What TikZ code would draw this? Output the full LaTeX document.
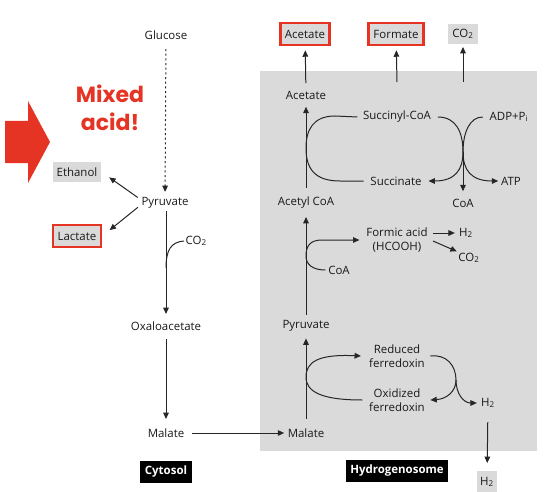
\documentclass[tikz,border=0pt]{standalone}
\usepackage{fontspec}
\setmainfont{Open Sans}
\newfontfamily\mixfont{Poppins}
\usetikzlibrary{arrows.meta}
\definecolor{mixred}{RGB}{229,52,36}
\definecolor{boxgray}{RGB}{218,218,218}
\begin{document}
\begin{tikzpicture}[x=0.75pt,y=-0.75pt,
  txt/.style={font=\fontsize{8.6}{10.5}\selectfont, inner sep=1pt, align=center, text=black!90},
  gbox/.style={txt, fill=boxgray, inner xsep=3pt, minimum height=15pt},
  rbox/.style={txt, fill=boxgray, draw=mixred, line width=2pt, inner xsep=3.5pt, minimum height=16.5pt},
  kbox/.style={font=\fontsize{8.6}{10}\selectfont\bfseries, fill=black, text=white, minimum height=16.5pt, inner sep=1pt},
  ln/.style={line width=0.75pt, black!85},
  arr/.style={ln, -{Triangle[length=4.8pt,width=4.2pt]}}
]
\useasboundingbox (0,0) rectangle (550,492);
% hydrogenosome region
\fill[boxgray] (260,71) rectangle (537,451);

% big red arrow and label
\fill[mixred] (5,121) -- (28,121) -- (28,101) -- (50,142) -- (28,183) -- (28,163) -- (5,163) -- cycle;
\node[font=\mixfont\bfseries\fontsize{16.5}{21}\selectfont, text=mixred, align=center, inner sep=0pt] (mix) at (110,108) {Mixed\\acid!};

% cytosol nodes
\node[txt] (glc) at (166,35) {Glucose};
\node[txt] (pyrL) at (165,203) {Pyruvate};
\node[gbox] (eth) at (77,172) {Ethanol};
\node[rbox] (lac) at (77,236) {Lactate};
\node[txt] (oxa) at (166,326) {Oxaloacetate};
\node[txt] (malL) at (166,433) {Malate};
\node[txt, anchor=west] (co2L) at (184,241) {CO\textsubscript{2}};
\node[kbox, minimum width=39pt] (cyt) at (166,472) {Cytosol};

% hydrogenosome nodes
\node[rbox] (acT) at (305,34) {Acetate};
\node[rbox] (foT) at (396,34) {Formate};
\node[gbox] (coT) at (463,34) {CO\textsubscript{2}};
\node[txt] (acI) at (306,95) {Acetate};
\node[txt] (sco) at (397,117) {Succinyl-CoA};
\node[txt] (suc) at (396,181) {Succinate};
\node[txt] (adp) at (509,117) {ADP+P\textsubscript{i}};
\node[txt] (atp) at (511,181) {ATP};
\node[txt] (coa1) at (463,203) {CoA};
\node[txt] (acoa) at (306,203) {Acetyl CoA};
\node[txt] (coa2) at (339,270) {CoA};
\node[txt] (form) at (397,240) {Formic acid\\(HCOOH)};
\node[txt] (h2a) at (466,233) {H\textsubscript{2}};
\node[txt] (co2a) at (469,258) {CO\textsubscript{2}};
\node[txt] (pyrR) at (306,326) {Pyruvate};
\node[txt] (red) at (397,356) {Reduced\\ferredoxin};
\node[txt] (oxi) at (397,400) {Oxidized\\ferredoxin};
\node[txt] (h2r) at (488,403) {H\textsubscript{2}};
\node[txt] (malR) at (306,433) {Malate};
\node[gbox, minimum height=16pt, inner xsep=2.5pt] (h2b) at (487,482) {H\textsubscript{2}};
\node[kbox, minimum width=76pt] (hyd) at (397,471) {Hydrogenosome};

\coordinate (fs) at (397,82);
\coordinate (cs) at (463,82);
\coordinate (x1) at (463,152);
\coordinate (fa1) at (433,233);
\coordinate (fa2) at (433,241);

% cytosol connectors
\draw[ln, dash pattern=on 1.5pt off 2pt, -{Triangle[length=4.8pt,width=4.2pt]}, shorten <=6pt, shorten >=3pt] (glc) -- (pyrL);
\draw[arr, shorten <=2pt, shorten >=7pt] ([yshift=3pt]pyrL.west) -- (eth.east);
\draw[arr, shorten <=2pt, shorten >=7pt] ([yshift=-2pt]pyrL.west) -- (lac.east);
\draw[arr, shorten <=6pt, shorten >=4.5pt] ([xshift=0.75pt]pyrL.center) -- (oxa);
\draw[ln] (166,268) .. controls (166,250) and (171,242) .. (co2L.west);
\draw[arr, shorten <=5.3pt, shorten >=6pt] (oxa) -- (malL);
\draw[arr, shorten <=4.5pt, shorten >=1.5pt] (malL) -- (malR);

% vertical chain
\draw[arr, shorten <=6pt, shorten >=4pt] (malR) -- (pyrR);
\draw[arr, shorten <=3pt, shorten >=5pt] (pyrR) -- (acoa);
\draw[arr, shorten <=6pt, shorten >=4.5pt] (acoa) -- (acI);
\draw[arr, shorten <=4.5pt, shorten >=3pt] (acI) -- (acT);
\draw[arr, shorten >=3pt] (fs) -- (foT);
\draw[arr, shorten >=2pt] (cs) -- (coT);

% succinate cycle
\draw[ln] ([xshift=-3pt]sco.west) -- (335,116) .. controls (313,116) and (306,130) .. (306,148)
  .. controls (306,168) and (314,181) .. (340,181) -- ([xshift=-4pt]suc.west);
\draw[arr] ([xshift=4pt]sco.east) .. controls (456,117) and (463,132) .. (x1) .. controls (463,170) and (455,181) .. ([xshift=4pt]suc.east);
\draw[arr] ([xshift=-4pt]adp.west) .. controls (470,117) and (463,132) .. (x1) .. controls (463,170) and (471,181) .. ([xshift=-1pt]atp.west);
\draw[arr, shorten >=4.5pt] (x1) -- (coa1);

% formic acid branch
\draw[arr] ([xshift=-1pt]coa2.west) .. controls (312,270) and (306,264) .. (306,256) .. controls (306,246) and (310,240) .. (322,240) -- ([xshift=-4pt]form.west);
\draw[arr] (fa1) -- ([xshift=-2pt]h2a.west);
\draw[arr] (fa2) -- (co2a.north west);

% ferredoxin cycle
\draw[arr] ([xshift=-4pt]oxi.west) .. controls (322,400) and (306,392) .. (306,377) .. controls (306,362) and (318,354) .. ([xshift=-5pt]red.west);
\coordinate (x2) at (456,380);
\draw[arr] ([xshift=3pt]red.east) .. controls (447,354) and (456,366) .. (x2) .. controls (456,392) and (446,399) .. ([xshift=3pt]oxi.east);
\draw[arr] (x2) .. controls (456,393) and (463,403) .. ([xshift=-2pt]h2r.west);
\draw[arr, shorten <=9.5pt, shorten >=6pt] (h2r) -- (h2b);
\end{tikzpicture}
\end{document}
